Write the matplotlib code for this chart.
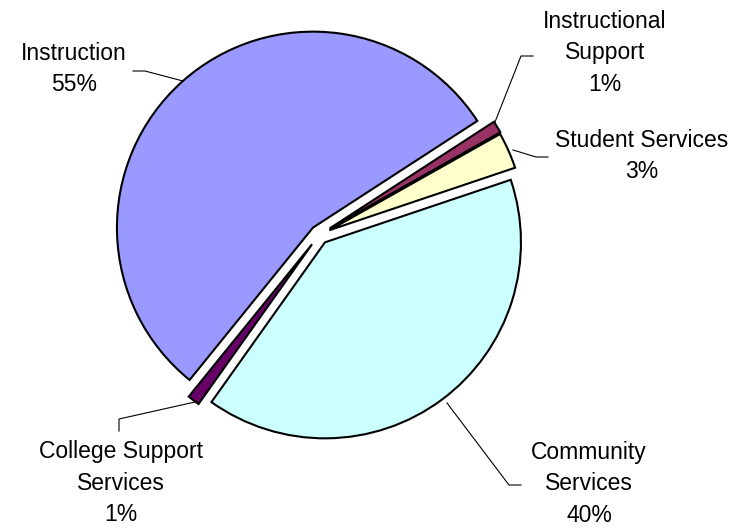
"""Pie chart of expenditure share by function, with exploded wedges and leader-line labels."""

import matplotlib

matplotlib.use("Agg")
import matplotlib.pyplot as plt

# Share of spending by function (percent)
categories = [
    "Instruction",
    "Instructional\nSupport",
    "Student Services",
    "Community\nServices",
    "College Support\nServices",
]
shares = [55, 1, 3, 40, 1]

COLORS = ["#9999FF", "#993366", "#FFFFCC", "#CCFFFF", "#660066"]
# pie() offsets wedges in data units, and the axes here are in pixels
EXPLODE = [9.5, 12, 11, 9.5, 12]

W, H = 756, 530
CENTER = (319.3, H - 234.7)
RADIUS = 196

# Label anchor (text centre) and leader-line points, in image pixels (y down)
LABEL_POS = [(74, 69), (605, 53), (642, 156), (589, 484), (121, 483)]
LEADERS = [
    [(183, 81), (145, 71), (133, 71)],
    [(495, 122), (521, 56), (533, 56)],
    [(513, 150), (536, 157), (548, 157)],
    [(447, 403), (509, 485), (521, 485)],
    [(195, 402), (119, 419), (119, 431)],
]

plt.rcParams["font.family"] = ["Liberation Sans", "DejaVu Sans"]

fig = plt.figure(figsize=(W / 100, H / 100), dpi=100)
ax = fig.add_axes([0, 0, 1, 1])

ax.pie(
    shares,
    colors=COLORS,
    explode=EXPLODE,
    startangle=231,
    counterclock=False,
    center=CENTER,
    radius=RADIUS,
    frame=True,
    wedgeprops=dict(edgecolor="black", linewidth=1.5, joinstyle="miter"),
)

for (x, y), name, pct in zip(LABEL_POS, categories, shares):
    ax.text(
        x, H - y, f"{name}\n{pct}%",
        ha="center", va="center", fontsize=16.5, linespacing=1.45, color="black",
    )

for pts in LEADERS:
    xs = [p[0] for p in pts]
    ys = [H - p[1] for p in pts]
    ax.plot(xs, ys, color="black", linewidth=0.8)

ax.set_xlim(0, W)
ax.set_ylim(0, H)
ax.set_aspect("equal")
ax.axis("off")

fig.savefig("out.png", dpi=100, facecolor="white")
